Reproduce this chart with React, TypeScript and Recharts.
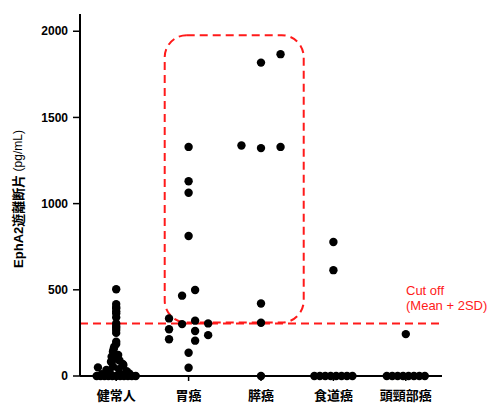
import React from 'react';
import { ScatterChart, Scatter, XAxis, YAxis, ReferenceLine, ReferenceArea, Label } from 'recharts';

const categories = ['健常人', '胃癌', '膵癌', '食道癌', '頭頸部癌'];
const yTicks = [0, 500, 1000, 1500, 2000];

const healthyValues = [503, 417, 400, 392, 375, 363, 340, 305, 290, 280, 267, 250, 199, 185, 170, 155, 141, 122, 112, 100, 90, 83, 70, 64, 55, 50, 40, 35, 28, 20, 15, 10, 8, 0, 0, 0, 0, 0, 0, 0, 0, 0, 0, 0];
const healthySlots = [0, 0, 0, 0, 0, 0, 0, 0, 0, 0, 0, 0, 0, 0, -0.3, -0.4, -0.5, 0.3, -0.7, 0, 0.5, -0.8, 1, 1.1, -0.5, -2.8, 0.4, -1.5, 1.6, -1, 2, -2.2, 0.8, -3, -2.4, -1.8, -1.2, -0.6, 0, 0.6, 1.2, 1.8, 2.4, 3];

const gastricValues = [1329, 1130, 1063, 812, 499, 466, 334, 301, 321, 305, 271, 261, 237, 213, 205, 135, 48];
const gastricSlots = [0, 0, 0, 0, 1, -1, -3, -1, 1, 3, -3, 1, 3, -3, 1, 0, 0];

const pancreaticValues = [1818, 1867, 1337, 1322, 1329, 421, 309, 0];
const pancreaticSlots = [0, 3, -3, 0, 3, 0, 0, 0];

const esophagealValues = [777, 614, 0, 0, 0, 0, 0, 0, 0, 0];
const esophagealSlots = [0, 0, -2.92, -2.08, -1.25, -0.42, 0.42, 1.25, 2.08, 2.92];

const headNeckValues = [243, 0, 0, 0, 0, 0, 0, 0, 0];
const headNeckSlots = [0, -2.92, -2.08, -1.25, -0.42, 0.42, 1.25, 2.08, 2.92];

const cutOff = 305;
const highlightBox = { x1: 0.67, x2: 2.59, y1: 310, y2: 1977 };

const SLOT = 0.09;
const groups = [
  [healthyValues, healthySlots],
  [gastricValues, gastricSlots],
  [pancreaticValues, pancreaticSlots],
  [esophagealValues, esophagealSlots],
  [headNeckValues, headNeckSlots],
];
const points = groups.flatMap(([vals, slots], gi) =>
  vals.map((v, i) => ({ x: gi + slots[i] * SLOT, y: v }))
);

const FONT = '"Liberation Sans", "Noto Sans CJK JP", Arial, sans-serif';

const Dot = (p: any) => <circle cx={p.cx} cy={p.cy} r={4.2} fill="#000" />;

const RoundedBox = (p: any) => (
  <rect x={p.x} y={p.y} width={p.width} height={p.height} rx={22} ry={22}
    fill="none" stroke="#ff1a1a" strokeWidth={2} strokeDasharray="8 5" />
);

const YLabel = (p: any) => {
  const vb = p.viewBox;
  const cx = 18;
  const cy = vb.y + vb.height / 2 + 4;
  return (
    <text x={cx} y={cy} transform={`rotate(-90 ${cx} ${cy})`} textAnchor="middle" dominantBaseline="central"
      fontFamily={FONT} fill="#000">
      <tspan fontWeight="bold" fontSize={13}>EphA2遊離断片</tspan>
      <tspan fontSize={12}> (pg/mL)</tspan>
    </text>
  );
};

const CutLabel = (p: any) => {
  const vb = p.viewBox;
  const x = vb.x + vb.width - 36;
  return (
    <text x={x} y={vb.y - 33} fontFamily={FONT} fontSize={13} fill="#ff1a1a" dominantBaseline="central">
      <tspan x={x}>Cut off</tspan>
      <tspan x={x} dy={15}>(Mean + 2SD)</tspan>
    </text>
  );
};

export default function App() {
  return (
    <div style={{ position: 'absolute', left: 0, top: 0, background: '#fff' }}>
      <ScatterChart width={491} height={405} margin={{ top: 14, right: 49, bottom: 4, left: 0 }}>
        <XAxis type="number" dataKey="x" domain={[-0.5, 4.5]} ticks={[0, 1, 2, 3, 4]}
          tickFormatter={(v: number) => categories[v]} interval={0}
          axisLine={{ stroke: '#000', strokeWidth: 2 }} tickLine={{ stroke: '#000', strokeWidth: 1.5 }}
          tickSize={5} tickMargin={10} height={25}
          tick={{ fill: '#000', fontSize: 13, fontWeight: 'bold', fontFamily: FONT }} />
        <YAxis type="number" dataKey="y" domain={[0, 2100]} ticks={yTicks} width={80}
          axisLine={{ stroke: '#000', strokeWidth: 2 }} tickLine={{ stroke: '#000', strokeWidth: 1.5 }}
          tickSize={7} tickMargin={5}
          tick={{ fill: '#000', fontSize: 12, fontWeight: 'bold', fontFamily: FONT }}>
          <Label content={<YLabel />} />
        </YAxis>
        <ReferenceArea x1={highlightBox.x1} x2={highlightBox.x2} y1={highlightBox.y1} y2={highlightBox.y2}
          shape={<RoundedBox />} ifOverflow="extendDomain" />
        <ReferenceLine y={cutOff} stroke="#ff1a1a" strokeWidth={2} strokeDasharray="8 5">
          <Label content={<CutLabel />} />
        </ReferenceLine>
        <Scatter data={points} shape={<Dot />} isAnimationActive={false} />
      </ScatterChart>
    </div>
  );
}
